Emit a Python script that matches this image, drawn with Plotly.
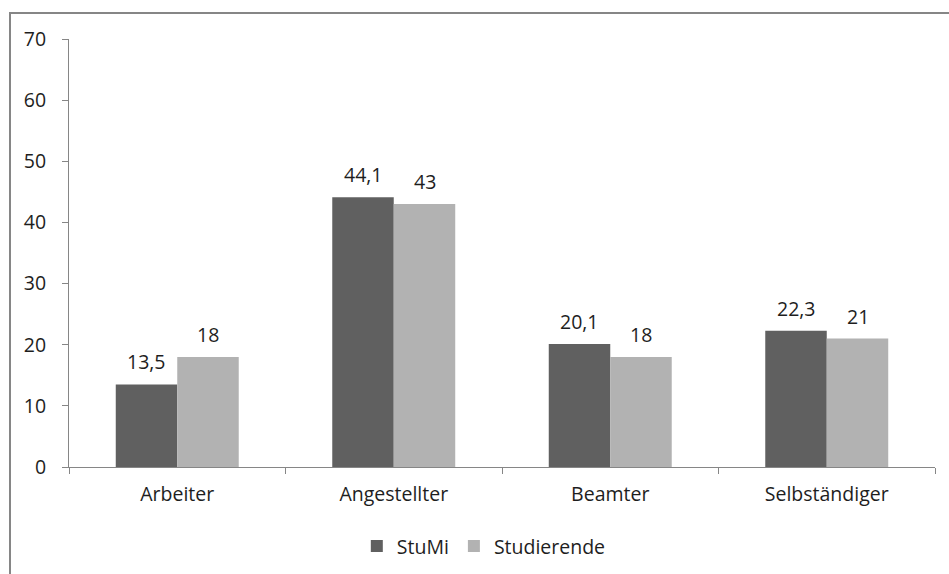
import plotly.graph_objects as go

categories = ["Arbeiter", "Angestellter", "Beamter", "Selbständiger"]
stumi = [13.5, 44.1, 20.1, 22.3]
studierende = [18, 43, 18, 21]
y_ticks = [0, 10, 20, 30, 40, 50, 60, 70]

def fmt(v):
    return (f"{v:g}").replace(".", ",")

font_family = "Open Sans, Noto Sans, sans-serif"
txt_color = "#1e1e1e"
fs = 19.5

fig = go.Figure()
fig.add_trace(go.Bar(
    name="StuMi", x=categories, y=stumi,
    marker=dict(color="#606060", line=dict(width=0)),
    offsetgroup="a",
))
fig.add_trace(go.Bar(
    name="Studierende", x=categories, y=studierende,
    marker=dict(color="#b2b2b2", line=dict(width=0)),
    offsetgroup="b",
))

annotations = []
for cat, v in zip(categories, stumi):
    annotations.append(dict(x=cat, y=v, xref="x", yref="y", text=fmt(v), showarrow=False,
                            xshift=-30.75, yanchor="bottom", yshift=7,
                            font=dict(size=fs, color=txt_color, family=font_family)))
for cat, v in zip(categories, studierende):
    annotations.append(dict(x=cat, y=v, xref="x", yref="y", text=fmt(v), showarrow=False,
                            xshift=30.75, yanchor="bottom", yshift=7,
                            font=dict(size=fs, color=txt_color, family=font_family)))

fig.update_layout(
    width=949, height=574,
    margin=dict(l=69, r=14, t=39, b=107, autoexpand=False),
    paper_bgcolor="white", plot_bgcolor="white",
    barmode="group", bargap=0.432, bargroupgap=0,
    font=dict(family=font_family, size=fs, color=txt_color),
    showlegend=True,
    legend=dict(orientation="h", x=0.479, xanchor="center", y=-0.14, yanchor="top",
                font=dict(size=fs, color=txt_color), itemwidth=30, traceorder="normal"),
    xaxis=dict(
        showgrid=False, showline=True, linecolor="#868686", linewidth=1,
        ticks="outside", ticklen=6, tickcolor="#868686", tickson="boundaries",
        tickfont=dict(size=fs, color=txt_color), ticklabelstandoff=10,
    ),
    yaxis=dict(
        range=[0, 70], tickvals=y_ticks, showgrid=False, zeroline=False,
        showline=True, linecolor="#868686", linewidth=1,
        ticks="outside", ticklen=6, tickcolor="#868686",
        ticklabelstandoff=12,
        tickfont=dict(size=fs, color=txt_color),
    ),
    annotations=annotations,
    shapes=[
        dict(type="rect", xref="paper", yref="paper",
             x0=-59/866, x1=1.2, y0=-0.5, y1=1 + 26/428,
             line=dict(color="#868686", width=2), fillcolor="rgba(0,0,0,0)", layer="above"),
    ],
)

fig.write_html("out.html")
